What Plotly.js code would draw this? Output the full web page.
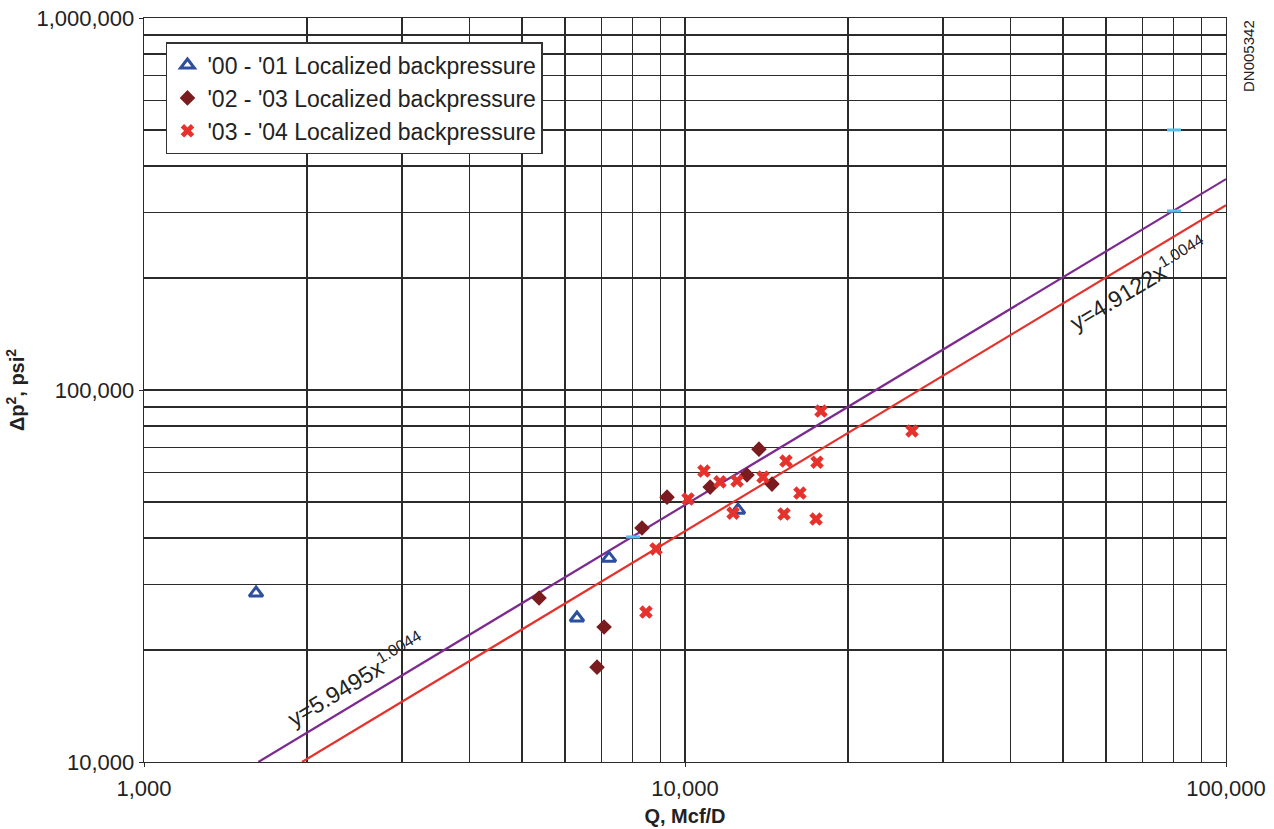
<!DOCTYPE html>
<html>
<head>
<meta charset="utf-8">
<script src="https://cdn.plot.ly/plotly-3.0.1.min.js"></script>
<style>html,body{margin:0;padding:0;background:#fff;}#chart{width:1274px;height:829px;}</style>
</head>
<body>
<div id="chart"></div>
<script>
// '00 - '01 Localized backpressure
const s1Q = [1611, 6314, 7236, 12530];
const s1P = [28450, 24380, 35310, 47540];
// '02 - '03 Localized backpressure
const s2Q = [5373, 7086, 6877, 8328, 9264, 11130, 13020, 13700, 14480];
const s2P = [27600, 23070, 17990, 42550, 51520, 54820, 59080, 69340, 55850];
// '03 - '04 Localized backpressure
const s3Q = [17840, 26280, 10840, 11605, 12480, 10130, 13940, 15370, 17540, 16310, 12270, 15240, 17470, 8840, 8470];
const s3P = [87800, 77600, 60540, 56630, 56940, 50930, 58350, 64430, 63970, 52850, 46660, 46420, 44990, 37390, 25300];
// unlabelled light-blue marks
const s4Q = [8017, 80150, 80150];
const s4P = [40280, 500000, 302900];
// trend lines (end points)
const trendPurpleQ = [1627, 100000];
const trendPurpleP = [10000, 369000];
const trendRedQ = [1959, 100000];
const trendRedP = [10000, 314000];

const xMajor = [1000, 10000, 100000];
const xMajorText = ["1,000", "10,000", "100,000"];
const yMajor = [10000, 100000, 1000000];
const yMajorText = ["10,000", "100,000", "1,000,000"];
const mult = [2, 3, 4, 5, 6, 7, 8, 9];
const xMinor = [1000, 10000].flatMap(d => mult.map(m => m * d));
const yMinor = [10000, 100000].flatMap(d => mult.map(m => m * d));

const FONT = "Liberation Sans, Arial, Helvetica, sans-serif";
const GRID = "#2b2b2b";

const traces = [
  {x: trendPurpleQ, y: trendPurpleP, mode: "lines", line: {color: "#7d2a8f", width: 2.2}, showlegend: false, hoverinfo: "skip"},
  {x: trendRedQ, y: trendRedP, mode: "lines", line: {color: "#e5322c", width: 2.2}, showlegend: false, hoverinfo: "skip"},
  {x: s4Q, y: s4P, mode: "markers", marker: {symbol: "line-ew-open", size: 10, color: "#55c0ea", line: {color: "#55c0ea", width: 3}}, showlegend: false},
  {x: s1Q, y: s1P, mode: "markers", name: "'00 - '01 Localized backpressure",
   marker: {symbol: "triangle-up-open", size: 12, color: "#2d4f9e", line: {color: "#2d4f9e", width: 3}}},
  {x: s2Q, y: s2P, mode: "markers", name: "'02 - '03 Localized backpressure",
   marker: {symbol: "diamond", size: 12, color: "#7a1c1f"}},
  {x: s3Q, y: s3P, mode: "markers", name: "'03 - '04 Localized backpressure",
   marker: {symbol: "x", size: 12, color: "#e5322c"}}
];

const layout = {
  width: 1274, height: 829,
  margin: {l: 144, r: 48, t: 18, b: 67},
  paper_bgcolor: "#fff", plot_bgcolor: "#fff",
  font: {family: FONT, size: 22, color: "#222"},
  showlegend: true,
  legend: {x: 0.0203, y: 0.9677, xanchor: "left", yanchor: "top", bgcolor: "#fff",
           bordercolor: "#333", borderwidth: 1.5, font: {size: 23, color: "#222"}},
  xaxis: {
    type: "log", range: [3, 5],
    tickmode: "array", tickvals: xMajor, ticktext: xMajorText,
    ticks: "outside", ticklen: 4, tickcolor: GRID, ticklabelstandoff: 2,
    showgrid: true, gridcolor: GRID, gridwidth: 1.3,
    showline: true, linecolor: GRID, linewidth: 1.3, mirror: true,
    zeroline: false,
    minor: {tickmode: "array", tickvals: xMinor, showgrid: true, gridcolor: GRID, gridwidth: 1.3, ticks: ""},
    title: {text: "<b>Q, Mcf/D</b>", font: {size: 20, color: "#222"}, standoff: 9}
  },
  yaxis: {
    type: "log", range: [4, 6],
    tickmode: "array", tickvals: yMajor, ticktext: yMajorText,
    ticks: "outside", ticklen: 4, tickcolor: GRID,
    showgrid: true, gridcolor: GRID, gridwidth: 1.3,
    showline: true, linecolor: GRID, linewidth: 1.3, mirror: true,
    zeroline: false,
    minor: {tickmode: "array", tickvals: yMinor, showgrid: true, gridcolor: GRID, gridwidth: 1.3, ticks: ""},
    title: {text: "<b>Δp<sup>2</sup>, psi<sup>2</sup></b>", font: {size: 20, color: "#222"}, standoff: 6}
  },
  annotations: [
    {xref: "x", yref: "y", x: 3.392, y: 4.222, text: "y=5.9495x<sup>1.0044</sup>", textangle: -31,
     showarrow: false, font: {size: 23, color: "#222"}},
    {xref: "x", yref: "y", x: 4.838, y: 5.288, text: "y=4.9122x<sup>1.0044</sup>", textangle: -31,
     showarrow: false, font: {size: 23, color: "#222"}},
    {xref: "paper", yref: "paper", x: 1, xshift: 22, y: 1, yshift: 0, xanchor: "center", yanchor: "top",
     text: "DN005342", textangle: -90, showarrow: false, font: {size: 15, color: "#222"}}
  ]
};

Plotly.newPlot("chart", traces, layout, {displayModeBar: false, staticPlot: true});
</script>
</body>
</html>
